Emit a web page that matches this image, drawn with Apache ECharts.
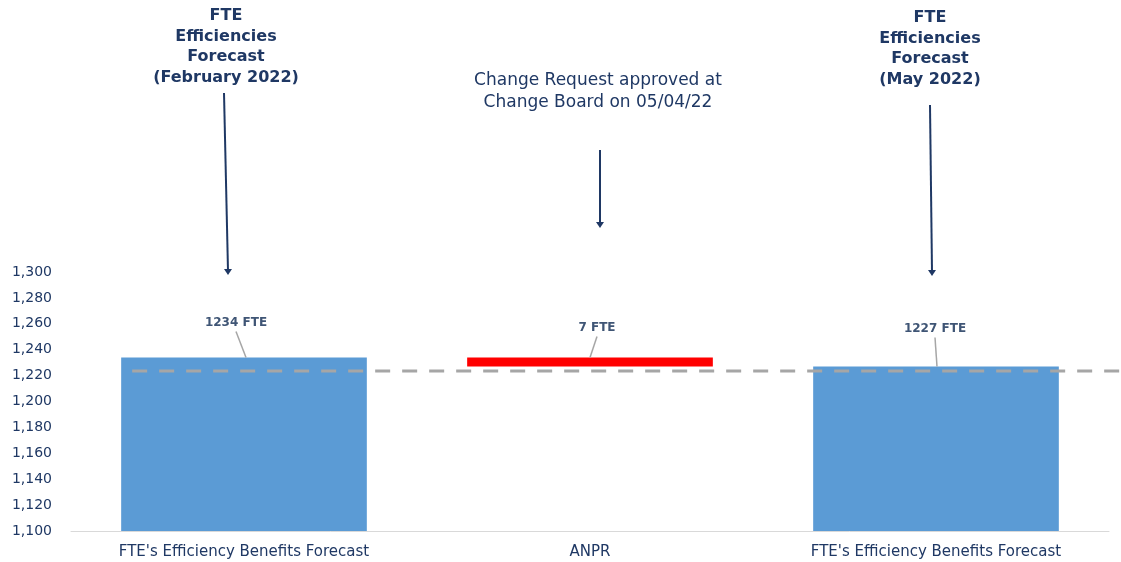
<!DOCTYPE html>
<html>
<head>
<meta charset="utf-8">
<script src="https://cdn.jsdelivr.net/npm/echarts@6/dist/echarts.min.js"></script>
<style>
  html, body { margin: 0; padding: 0; background: #ffffff; }
  #chart { width: 1121px; height: 562px; }
</style>
</head>
<body>
<div id="chart"></div>
<script>
// Waterfall of FTE efficiency forecasts
const categories = ["FTE's Efficiency Benefits Forecast", 'ANPR', "FTE's Efficiency Benefits Forecast"];
const offsetValues = [0, 1227, 0];      // invisible base for the floating change bar
const barValues = [1234, 7, 1227];      // visible bar heights
const barColors = ['#5b9bd5', '#ff0000', '#5b9bd5'];
const referenceLevel = 1223.5;          // dashed reference line
const yTicks = { min: 1100, max: 1300, interval: 20 };

const navy = '#1f3864';
const labelColor = '#3f5575';
const font = 'DejaVu Sans';

// value-label offsets (dx, dy) and where each leader line meets its bar (x offset from bar centre)
const labelShift = [[-8, -25], [7, -20], [-1, -28]];
const leaderFoot = [2, 0, 1];
const labelDistance = 4;

const chart = echarts.init(document.getElementById('chart'), null, { renderer: 'canvas' });

const option = {
  animation: false,
  backgroundColor: '#ffffff',
  grid: { left: 71, right: 12, top: 272, bottom: 31, containLabel: false },
  xAxis: {
    type: 'category',
    data: categories,
    axisLine: { show: true, lineStyle: { color: '#d9d9d9', width: 1 } },
    axisTick: { show: false },
    axisLabel: { color: navy, fontFamily: font, fontSize: 15, margin: 14, interval: 0 },
    splitLine: { show: false }
  },
  yAxis: {
    type: 'value',
    min: yTicks.min,
    max: yTicks.max,
    interval: yTicks.interval,
    axisLine: { show: false },
    axisTick: { show: false },
    splitLine: { show: false },
    axisLabel: {
      color: navy, fontFamily: font, fontSize: 14, margin: 19,
      formatter: v => v.toLocaleString('en-US')
    }
  },
  series: [
    {
      type: 'bar',
      stack: 'wf',
      data: offsetValues,
      itemStyle: { color: 'transparent' },
      barCategoryGap: '29%',
      silent: true
    },
    {
      type: 'bar',
      stack: 'wf',
      barCategoryGap: '29%',
      data: barValues.map((v, i) => ({
        value: v,
        itemStyle: { color: barColors[i], borderColor: barColors[i], borderWidth: i === 1 ? 1.5 : 0 }
      })),
      label: {
        show: true,
        position: 'top',
        distance: labelDistance,
        color: labelColor,
        fontFamily: font,
        fontWeight: 'bold',
        fontSize: 12,
        formatter: p => p.value + ' FTE'
      },
      labelLayout: p => ({ dx: labelShift[p.dataIndex][0], dy: labelShift[p.dataIndex][1] })
    }
  ]
};

chart.setOption(option);

// Reference line, leader lines, headings and arrows
const centres = categories.map((_, i) => chart.convertToPixel({ xAxisIndex: 0 }, i));
const step = centres[1] - centres[0];
const barLeft = centres[0] - step * 0.71 / 2;
const refY = chart.convertToPixel({ yAxisIndex: 0 }, referenceLevel);

const leaders = barValues.map((v, i) => {
  const topVal = offsetValues[i] + v;
  const topY = chart.convertToPixel({ yAxisIndex: 0 }, topVal);
  const labelBottom = topY - labelDistance + labelShift[i][1];
  return {
    type: 'line', z: 60,
    shape: {
      x1: centres[i] + labelShift[i][0], y1: labelBottom + 3,
      x2: centres[i] + leaderFoot[i], y2: topY
    },
    style: { stroke: '#a6a6a6', lineWidth: 1.5 }
  };
});

function arrow(x1, y1, x2, y2) {
  return [
    { type: 'line', z: 100, shape: { x1: x1, y1: y1, x2: x2, y2: y2 - 4 },
      style: { stroke: navy, lineWidth: 2 } },
    { type: 'polygon', z: 100, shape: { points: [[x2 - 4, y2 - 6], [x2 + 4, y2 - 6], [x2, y2]] },
      style: { fill: navy } }
  ];
}

function heading(text, cx, top, bold, size, lh) {
  return {
    type: 'text', z: 100,
    x: cx, y: top,
    style: {
      text: text, align: 'center', verticalAlign: 'top',
      fill: navy, font: (bold ? 'bold ' : '') + size + 'px "' + font + '"',
      lineHeight: lh
    }
  };
}

const graphics = [
  { type: 'line', z: 50,
    shape: { x1: barLeft + 11, y1: refY, x2: 1121, y2: refY },
    style: { stroke: '#a6a6a6', lineWidth: 3, lineDash: [15, 12] } },
  heading('FTE\nEfficiencies\nForecast\n(February 2022)', 226, 6, true, 16, 20.5),
  heading('Change Request approved at\nChange Board on 05/04/22', 598, 70, false, 17, 22),
  heading('FTE\nEfficiencies\nForecast\n(May 2022)', 930, 8, true, 16, 20.5)
].concat(leaders, arrow(224, 93, 228, 275), arrow(600, 150, 600, 228), arrow(930, 105, 932, 276));

chart.setOption({ graphic: graphics });
</script>
</body>
</html>
